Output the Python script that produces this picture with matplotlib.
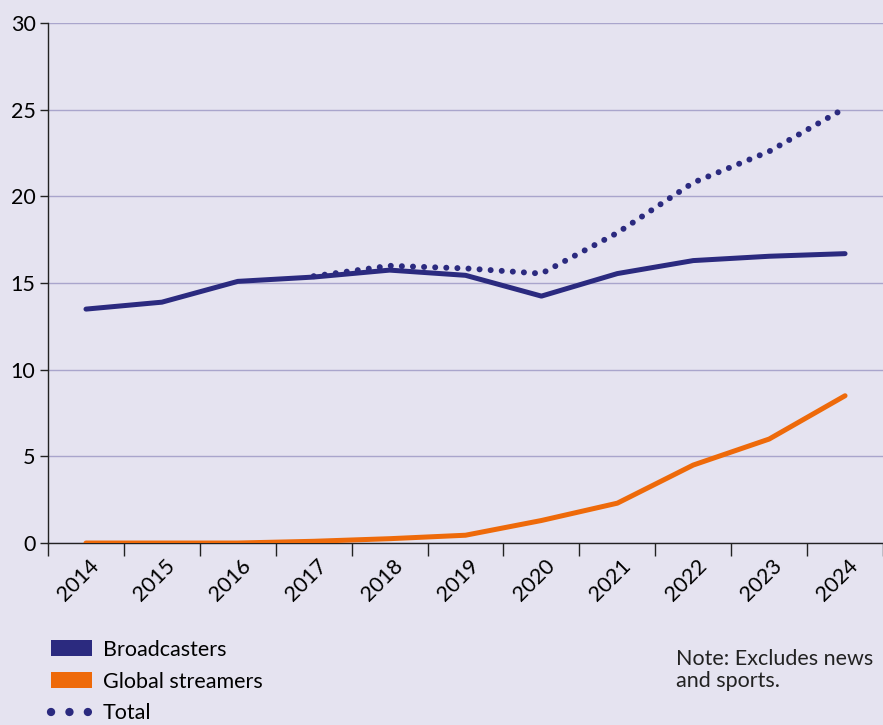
import matplotlib
matplotlib.use("Agg")
import matplotlib.pyplot as plt
import matplotlib.transforms as mtransforms
import numpy as np
from matplotlib.patches import Patch
from matplotlib.lines import Line2D

years = ["2014", "2015", "2016", "2017", "2018", "2019", "2020", "2021", "2022", "2023", "2024"]
broadcasters = [13.5, 13.9, 15.1, 15.35, 15.75, 15.45, 14.25, 15.55, 16.3, 16.55, 16.7]
global_streamers = [0.0, 0.0, 0.0, 0.1, 0.25, 0.45, 1.3, 2.3, 4.5, 6.0, 8.5]
total = [np.nan, np.nan, np.nan, 15.4, 16.0, 15.85, 15.55, 17.9, 20.8, 22.6, 25.1]

BG = "#E5E3F0"
NAVY = "#2B2A7F"
ORANGE = "#EE6A0A"
GRID = "#A9A5CC"

plt.rcParams["font.family"] = ["Lato", "DejaVu Sans"]

fig = plt.figure(figsize=(8.83, 7.25), dpi=100, facecolor=BG)
ax = fig.add_axes([0.0544, 0.251, 0.9456, 0.717])
ax.set_facecolor(BG)

x = np.arange(len(years))
ax.plot(x, broadcasters, color=NAVY, lw=3.6, solid_capstyle="round", solid_joinstyle="round", zorder=3)
ax.plot(x, global_streamers, color=ORANGE, lw=3.6, solid_capstyle="round", solid_joinstyle="round", zorder=3)
ax.plot(x, total, color=NAVY, lw=4.3, linestyle=(0, (0.01, 1.85)), dash_capstyle="round", zorder=4)

ax.set_xlim(-0.5, len(years) - 0.5)
ax.set_ylim(0, 30)
ax.set_yticks(range(0, 31, 5))
ax.yaxis.grid(True, color=GRID, lw=1)
ax.set_axisbelow(True)

# ticks on category boundaries, labels at centers
ax.set_xticks(np.arange(-0.5, len(years), 1.0))
ax.set_xticklabels([])
ax.set_xticks(x, minor=True)
ax.set_xticklabels(years, minor=True, rotation=45, ha="right", va="top",
                   rotation_mode="anchor", fontsize=15.5)
ax.tick_params(axis="x", which="minor", length=0, pad=9)
ax.tick_params(axis="x", which="major", length=9, width=1, color="#222222")
ax.tick_params(axis="y", length=6, width=1, color="#222222", labelsize=15.5, pad=3)
shift = mtransforms.ScaledTranslation(3 / 100, 0, fig.dpi_scale_trans)
for lab in ax.get_xticklabels(minor=True):
    lab.set_transform(lab.get_transform() + shift)

for s in ["top", "right"]:
    ax.spines[s].set_visible(False)
for s in ["left", "bottom"]:
    ax.spines[s].set_color("#222222")
    ax.spines[s].set_linewidth(1)

handles = [
    Patch(facecolor=NAVY, edgecolor="none", label="Broadcasters"),
    Patch(facecolor=ORANGE, edgecolor="none", label="Global streamers"),
    Line2D([0], [0], color=NAVY, lw=6, linestyle=(0, (0.01, 2.2)), dash_capstyle="round", label="Total"),
]
leg = fig.legend(handles=handles, loc="upper left", bbox_to_anchor=(0.058, 0.1175),
                 frameon=False, fontsize=15.5, handlelength=1.9, handleheight=0.75,
                 labelspacing=0.55, handletextpad=0.5, borderaxespad=0, borderpad=0)

fig.text(0.766, 0.105, "Note: Excludes news\nand sports.", fontsize=15.5, va="top", ha="left",
         color="#222222", linespacing=1.15)

fig.savefig("out.png", dpi=100, facecolor=BG)
